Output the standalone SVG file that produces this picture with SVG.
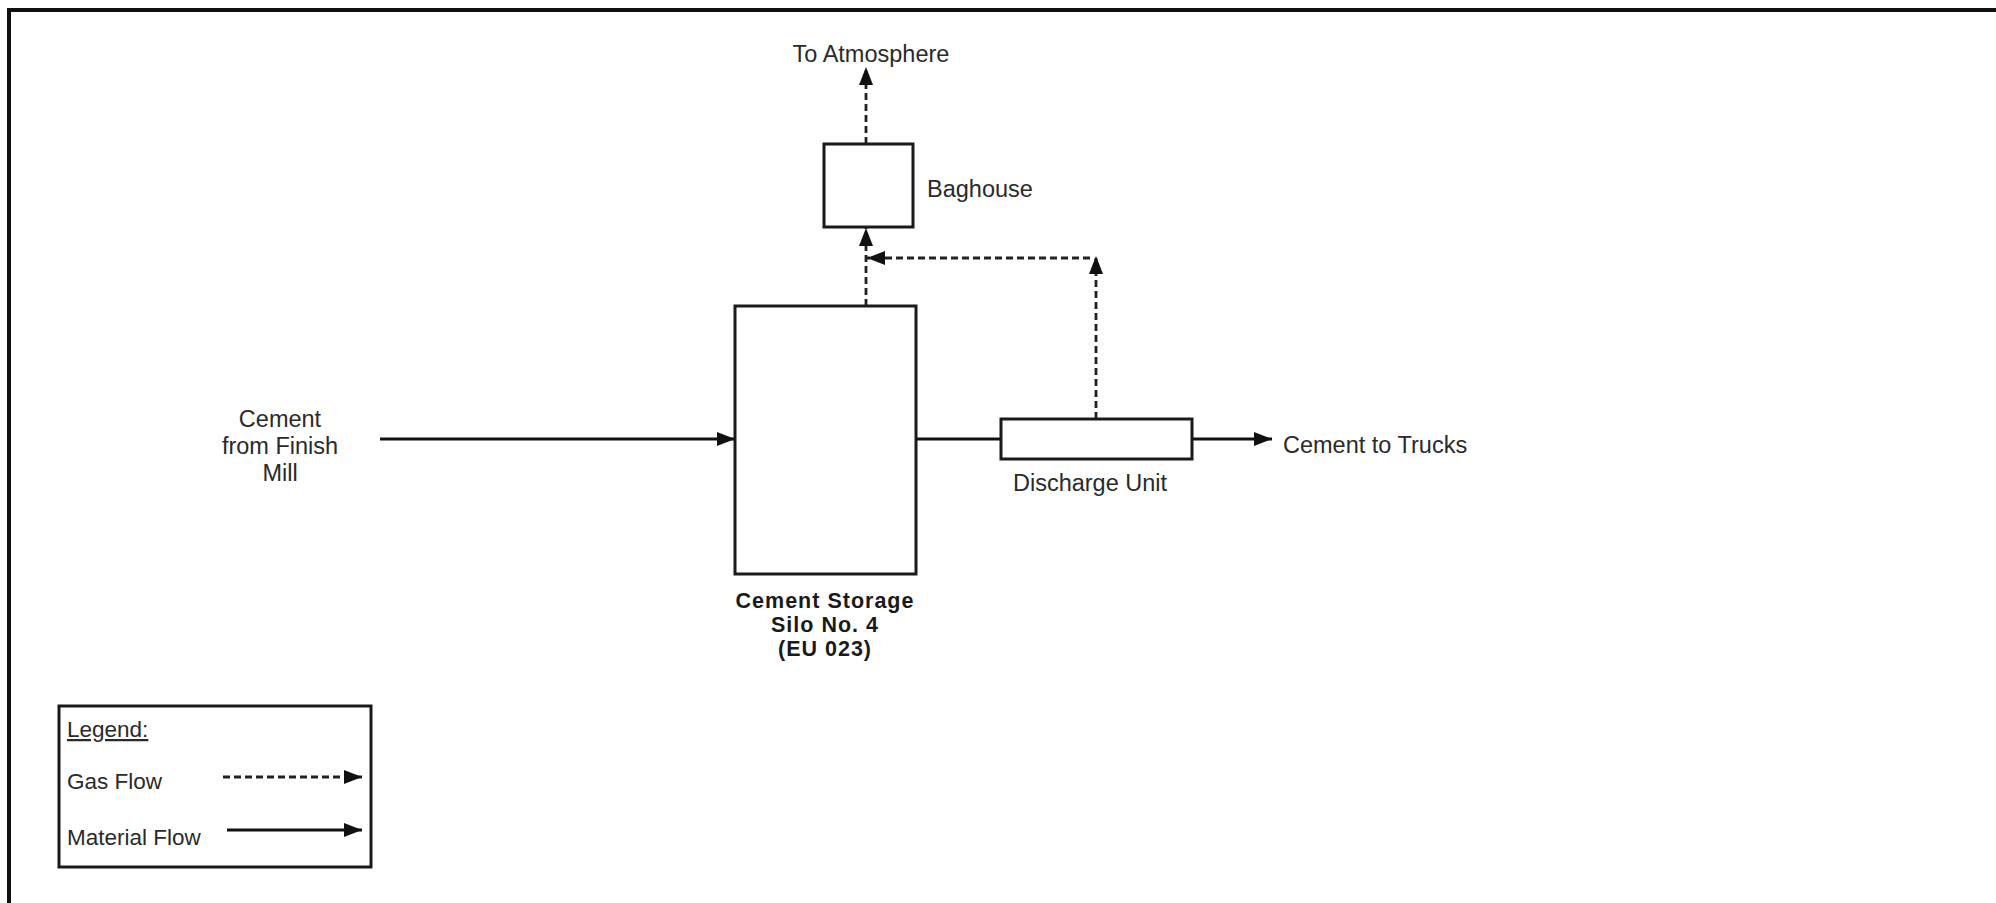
<svg xmlns="http://www.w3.org/2000/svg" width="1996" height="903" viewBox="0 0 1996 903">
<style>
  .bg { fill: #ffffff; }
  .frame { fill: none; stroke: #111; stroke-width: 4; }
  .box { fill: #ffffff; stroke: #1a1a1a; stroke-width: 3; }
  .mat { fill: none; stroke: #111; stroke-width: 2.8; }
  .gas { fill: none; stroke: #222; stroke-width: 2.8; stroke-dasharray: 7 4; }
  .lbl { font-family: "Liberation Sans", Arial, sans-serif; font-size: 23.5px; fill: #2a2a2a; }
  .bold { font-weight: bold; fill: #1a1a1a; font-size: 21.5px; letter-spacing: 1px; }
  .leg { font-family: "Liberation Sans", Arial, sans-serif; font-size: 22.5px; fill: #2a2a2a; }
</style>
<defs>
  <marker id="ah" markerUnits="userSpaceOnUse" viewBox="0 0 18 14" refX="18" refY="7" markerWidth="18" markerHeight="14" orient="auto">
    <path d="M0,0 L18,7 L0,14 z" fill="#111"/>
  </marker>
</defs>
<rect class="bg" x="0" y="0" width="1996" height="903"/>
<path class="frame" d="M9,903 V10 H1996"/>

<g id="connectors">
  <path class="mat" d="M380,439 H735" marker-end="url(#ah)"/>
  <path class="mat" d="M916,439 H1001"/>
  <path class="mat" d="M1192,439 H1272" marker-end="url(#ah)"/>
  <path class="gas" d="M866,306 V228" marker-end="url(#ah)"/>
  <path class="gas" d="M866,144 V67" marker-end="url(#ah)"/>
  <path class="gas" d="M1096,419 V256" marker-end="url(#ah)"/>
  <path class="gas" d="M1090,258 H867" marker-end="url(#ah)"/>
</g>

<g id="silo">
  <rect class="box" x="735" y="306" width="181" height="268"/>
  <text class="lbl bold" text-anchor="middle" x="825" y="608">Cement Storage</text>
  <text class="lbl bold" text-anchor="middle" x="825" y="632">Silo No. 4</text>
  <text class="lbl bold" text-anchor="middle" x="825" y="656">(EU 023)</text>
</g>

<g id="baghouse">
  <rect class="box" x="824" y="144" width="89" height="83"/>
  <text class="lbl" x="927" y="197">Baghouse</text>
</g>

<g id="discharge-unit">
  <rect class="box" x="1001" y="419" width="191" height="40"/>
  <text class="lbl" text-anchor="middle" x="1090" y="491">Discharge Unit</text>
</g>

<g id="atmosphere">
  <text class="lbl" text-anchor="middle" x="871" y="62">To Atmosphere</text>
</g>

<g id="source">
  <text class="lbl" text-anchor="middle" x="280" y="426.5">Cement</text>
  <text class="lbl" text-anchor="middle" x="280" y="453.5">from Finish</text>
  <text class="lbl" text-anchor="middle" x="280" y="481">Mill</text>
</g>

<g id="trucks">
  <text class="lbl" x="1283" y="453">Cement to Trucks</text>
</g>

<g id="legend">
  <rect class="box" x="59" y="706" width="312" height="161"/>
  <text class="leg" x="67" y="737" text-decoration="underline">Legend:</text>
  <text class="leg" x="67" y="789">Gas Flow</text>
  <text class="leg" x="67" y="845">Material Flow</text>
  <path class="gas" d="M223,777 H362" marker-end="url(#ah)"/>
  <path class="mat" d="M227,830 H362" marker-end="url(#ah)"/>
</g>
</svg>
